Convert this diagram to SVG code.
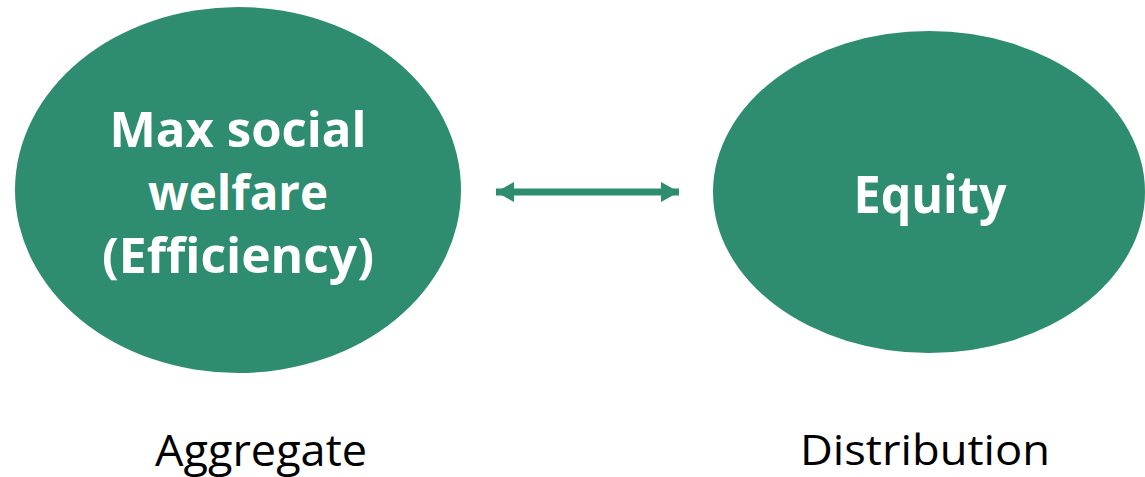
<svg xmlns="http://www.w3.org/2000/svg" width="1145" height="477" viewBox="0 0 1145 477">
<style>
.node{fill:#2e8c71}
.in{font-family:"Open Sans","Noto Sans",sans-serif;font-weight:bold;fill:#fff;text-anchor:middle}
.lbl{font-family:"Open Sans","Noto Sans",sans-serif;fill:#000;text-anchor:middle}
</style>
<defs>
<marker id="ah" viewBox="0 0 18 20" refX="18" refY="10" markerWidth="18" markerHeight="20" markerUnits="userSpaceOnUse" orient="auto-start-reverse">
<path d="M0,0 L18,10 L0,20 Z" fill="#2e8c71"/>
</marker>
</defs>
<g id="node-efficiency">
<ellipse class="node" cx="238" cy="190" rx="223" ry="183"/>
<text class="in" font-size="48" x="238" y="147" textLength="257" lengthAdjust="spacingAndGlyphs">Max social</text>
<text class="in" font-size="48" x="238" y="210" textLength="180" lengthAdjust="spacingAndGlyphs">welfare</text>
<text class="in" font-size="48" x="238" y="273" textLength="272" lengthAdjust="spacingAndGlyphs">(Efficiency)</text>
</g>
<g id="node-equity">
<ellipse class="node" cx="929" cy="192" rx="216" ry="161"/>
<text class="in" font-size="52" x="930" y="213" textLength="153" lengthAdjust="spacingAndGlyphs">Equity</text>
</g>
<g id="connectors">
<line x1="496" y1="192" x2="679" y2="192" stroke="#2e8c71" stroke-width="7" marker-start="url(#ah)" marker-end="url(#ah)"/>
</g>
<g id="labels">
<text class="lbl" font-size="44" x="261" y="466" textLength="212" lengthAdjust="spacingAndGlyphs">Aggregate</text>
<text class="lbl" font-size="42" x="925" y="465" textLength="250" lengthAdjust="spacingAndGlyphs">Distribution</text>
</g>
</svg>
